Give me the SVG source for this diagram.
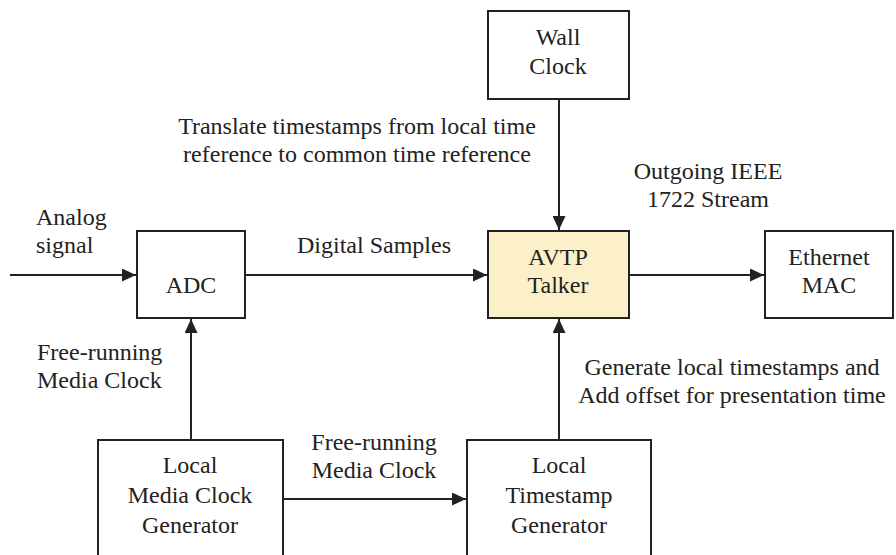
<svg xmlns="http://www.w3.org/2000/svg" width="896" height="555" viewBox="0 0 896 555">
<defs>
<marker id="ar" markerWidth="14" markerHeight="13" refX="14" refY="6.5" orient="auto" markerUnits="userSpaceOnUse">
<path d="M0,0 L14,6.5 L0,13 Z" fill="#222"/>
</marker>
</defs>
<g id="connectors" stroke="#222" stroke-width="2" fill="none">
<line x1="559" y1="99" x2="559" y2="230" marker-end="url(#ar)"/>
<line x1="10" y1="275" x2="136" y2="275" marker-end="url(#ar)"/>
<line x1="245" y1="275" x2="487" y2="275" marker-end="url(#ar)"/>
<line x1="629" y1="275" x2="764" y2="275" marker-end="url(#ar)"/>
<line x1="191" y1="440" x2="191" y2="319" marker-end="url(#ar)"/>
<line x1="283" y1="499" x2="466" y2="499" marker-end="url(#ar)"/>
<line x1="559" y1="440" x2="559" y2="319" marker-end="url(#ar)"/>
</g>
<g id="labels" font-family="Liberation Serif" font-size="24" fill="#222">
<text text-anchor="middle" x="357" y="134">Translate timestamps from local time</text>
<text text-anchor="middle" x="357" y="162">reference to common time reference</text>
<text text-anchor="middle" x="708" y="179">Outgoing IEEE</text>
<text text-anchor="middle" x="708" y="207">1722 Stream</text>
<text x="36" y="225">Analog</text>
<text x="36" y="253">signal</text>
<text text-anchor="middle" x="374" y="253">Digital Samples</text>
<text x="37" y="360">Free-running</text>
<text x="37" y="388">Media Clock</text>
<text text-anchor="middle" x="732" y="375">Generate local timestamps and</text>
<text text-anchor="middle" x="732" y="403">Add offset for presentation time</text>
<text text-anchor="middle" x="374" y="450">Free-running</text>
<text text-anchor="middle" x="374" y="478">Media Clock</text>
</g>
<g font-family="Liberation Serif" font-size="24" text-anchor="middle">
<g id="wall">
<rect x="488" y="11" width="141" height="88" fill="#fff" stroke="#222" stroke-width="2"/>
<text fill="#222" x="558" y="45">Wall</text>
<text fill="#222" x="558" y="74">Clock</text>
</g>
<g id="adc">
<rect x="137" y="231" width="108" height="87" fill="#fff" stroke="#222" stroke-width="2"/>
<text fill="#222" x="191" y="293">ADC</text>
</g>
<g id="avtp">
<rect x="488" y="231" width="141" height="87" fill="#fcf0c8" stroke="#222" stroke-width="2"/>
<text fill="#222" x="558" y="265">AVTP</text>
<text fill="#222" x="558" y="293">Talker</text>
</g>
<g id="eth">
<rect x="765" y="231" width="128" height="87" fill="#fff" stroke="#222" stroke-width="2"/>
<text fill="#222" x="829" y="265">Ethernet</text>
<text fill="#222" x="829" y="293">MAC</text>
</g>
<g id="mcg">
<rect x="98" y="440" width="185" height="130" fill="#fff" stroke="#222" stroke-width="2"/>
<text fill="#222" x="190" y="473">Local</text>
<text fill="#222" x="190" y="503">Media Clock</text>
<text fill="#222" x="190" y="533">Generator</text>
</g>
<g id="tsg">
<rect x="467" y="440" width="184" height="130" fill="#fff" stroke="#222" stroke-width="2"/>
<text fill="#222" x="559" y="473">Local</text>
<text fill="#222" x="559" y="503">Timestamp</text>
<text fill="#222" x="559" y="533">Generator</text>
</g>
</g>
</svg>
